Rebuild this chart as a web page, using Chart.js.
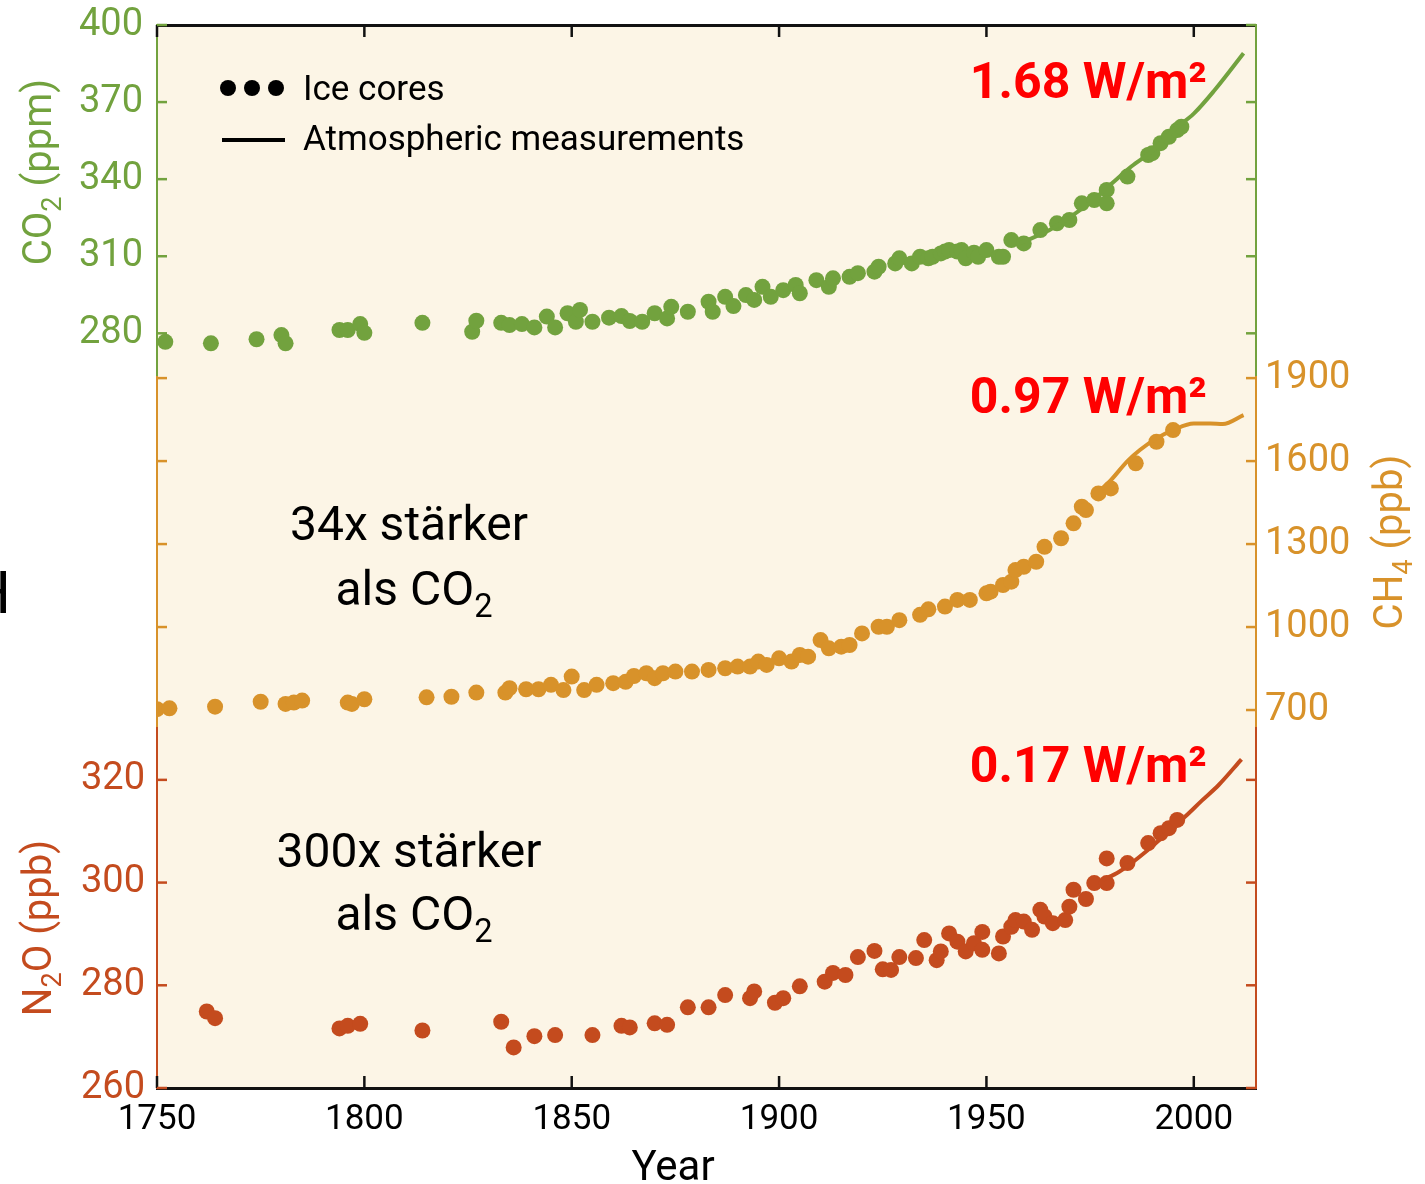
<!DOCTYPE html>
<html>
<head>
<meta charset="utf-8">
<script src="https://cdn.jsdelivr.net/npm/chart.js@4.4.1/dist/chart.umd.min.js"></script>
<style>
  html, body { margin: 0; padding: 0; background: #fff; overflow: hidden; }
  #wrap { width: 1425px; height: 1184px; position: relative; }
</style>
</head>
<body>
<div id="wrap"><canvas id="ghgChart"></canvas></div>
<script>
// tick values
const xTicks = [1750, 1800, 1850, 1900, 1950, 2000];
const co2Ticks = [280, 310, 340, 370, 400];
const ch4Ticks = [700, 1000, 1300, 1600, 1900];
const n2oTicks = [260, 280, 300, 320];

// CO2 (ppm)
const co2IceYears = [1752, 1763, 1774, 1780, 1781, 1794, 1796, 1799, 1800, 1814, 1826, 1827, 1833, 1835, 1838, 1841,
  1844, 1846, 1849, 1851, 1852, 1855, 1859, 1862, 1864, 1867, 1870, 1873, 1874, 1878, 1883, 1884, 1887, 1889, 1892,
  1894, 1896, 1898, 1901, 1904, 1905, 1909, 1912, 1913, 1917, 1919, 1923, 1924, 1928, 1929, 1932, 1934, 1936, 1937,
  1939, 1940, 1941, 1943, 1944, 1945, 1947, 1948, 1950, 1953, 1954, 1956, 1959, 1963, 1967, 1970, 1973, 1976, 1979,
  1979, 1984, 1989, 1990, 1992, 1994, 1996, 1997];
const co2IceValues = [276.7, 276.1, 277.7, 279.3, 276.1, 281.3, 281.3, 283.6, 280.2, 284.1, 280.6, 284.9, 284.1, 283.2,
  283.6, 282.3, 286.5, 282.3, 287.8, 284.5, 289.1, 284.5, 286.1, 286.7, 284.8, 284.5, 287.8, 285.8, 290.3, 288.4, 292.3,
  288.4, 294.2, 290.6, 294.9, 293.0, 298.1, 294.2, 296.8, 298.8, 295.6, 300.7, 298.1, 301.4, 302.0, 303.4, 304.0, 305.9,
  307.2, 309.2, 307.2, 309.8, 309.2, 309.8, 311.1, 311.8, 312.4, 311.8, 312.4, 309.2, 311.4, 309.8, 312.4, 309.8, 309.8,
  316.3, 315.0, 320.2, 322.8, 324.1, 330.6, 331.9, 335.8, 330.6, 341.0, 349.4, 350.1, 354.0, 356.5, 359.1, 360.4];
const co2AtmYears = [1958, 1965, 1970, 1975, 1980, 1985, 1990, 1995, 2000, 2005, 2012];
const co2AtmValues = [315, 320, 325, 331, 338, 345, 351, 359, 365.5, 374.6, 389];

// CH4 (ppb)
const ch4IceYears = [1750, 1753, 1764, 1775, 1781, 1783, 1785, 1796, 1797, 1800, 1815, 1821, 1827, 1834, 1835, 1839,
  1842, 1845, 1848, 1850, 1853, 1856, 1860, 1863, 1865, 1868, 1870, 1872, 1875, 1879, 1883, 1887, 1890, 1893, 1895,
  1897, 1900, 1903, 1905, 1907, 1910, 1912, 1915, 1917, 1920, 1924, 1926, 1929, 1934, 1936, 1940, 1943, 1946, 1950,
  1951, 1954, 1956, 1957, 1959, 1962, 1964, 1968, 1971, 1973, 1974, 1977, 1980, 1986, 1991, 1995];
const ch4IceValues = [703, 706, 712, 730, 722, 727, 734, 727, 722, 739, 746, 748, 763, 763, 779, 775, 775, 791, 772,
  821, 772, 791, 797, 802, 823, 833, 815, 833, 839, 839, 845, 851, 857, 857, 875, 863, 887, 875, 899, 893, 953, 923,
  929, 935, 977, 1001, 1001, 1025, 1044, 1064, 1074, 1098, 1098, 1122, 1128, 1152, 1164, 1206, 1218, 1236, 1290,
  1321, 1375, 1435, 1423, 1483, 1501, 1592, 1670, 1712];
const ch4AtmYears = [1976, 1980, 1984, 1987, 1991, 1995, 2000, 2004, 2007, 2012];
const ch4AtmValues = [1475, 1531, 1600, 1640, 1682, 1712, 1736, 1736, 1734, 1766];

// N2O (ppb)
const n2oIceYears = [1762, 1764, 1794, 1796, 1799, 1814, 1833, 1836, 1841, 1846, 1855, 1862, 1864, 1870, 1873, 1878,
  1883, 1887, 1893, 1894, 1899, 1901, 1905, 1911, 1913, 1916, 1919, 1923, 1925, 1927, 1929, 1933, 1935, 1938, 1939,
  1941, 1943, 1945, 1947, 1949, 1949, 1953, 1954, 1956, 1957, 1959, 1961, 1963, 1964, 1966, 1969, 1970, 1971, 1974,
  1976, 1979, 1979, 1984, 1989, 1992, 1994, 1996];
const n2oIceValues = [274.9, 273.6, 271.6, 272.1, 272.5, 271.2, 272.9, 267.9, 270.1, 270.3, 270.3, 272.1, 271.8, 272.6,
  272.3, 275.7, 275.7, 278.1, 277.5, 278.8, 276.6, 277.5, 279.8, 280.7, 282.4, 282.0, 285.5, 286.7, 283.1, 283.0, 285.5,
  285.3, 288.8, 284.9, 286.6, 290.1, 288.5, 286.6, 288.2, 290.4, 286.9, 286.2, 289.5, 291.4, 292.7, 292.4, 290.8, 294.7,
  293.4, 292.1, 292.7, 295.3, 298.6, 296.8, 299.9, 299.9, 304.7, 303.8, 307.7, 309.6, 310.6, 312.2];
const n2oAtmYears = [1978, 1982, 1989, 1994, 1998, 2002, 2006, 2011.5];
const n2oAtmValues = [300.5, 302.1, 306.4, 310.0, 312.9, 316.0, 319.0, 324.0];

const GREEN = '#72a23e';
const ORANGE = '#d8922a';
const RED = '#c44b1e';
const CREAM = '#fcf5e6';
const FONT = 'Roboto';
const LEFT_W = 157, RIGHT_W = 169;

const pts = (xs, ys) => xs.map((x, i) => ({ x: x, y: ys[i] }));

function yScale(o) {
  return {
    type: 'linear',
    position: o.pos,
    stack: o.pos,
    stackWeight: o.h,
    weight: o.order,
    min: o.min,
    max: o.max,
    afterBuildTicks: s => { s.ticks = o.ticks.map(v => ({ value: v })); },
    afterFit: s => {
      s.width = o.pos === 'left' ? LEFT_W : RIGHT_W;
      s.paddingTop = 0;
      s.paddingBottom = 0;
    },
    grid: { display: false, drawTicks: false },
    border: { display: true, color: o.color, width: 2 },
    ticks: {
      display: !!o.labels, color: o.color, padding: o.pad || 12, autoSkip: false,
      font: { family: FONT, size: 38 }, callback: v => String(v)
    }
  };
}

function iceSet(label, xs, ys, color, axis) {
  return {
    label: label, data: pts(xs, ys), yAxisID: axis, showLine: false,
    pointRadius: 8, pointBorderWidth: 0, pointBackgroundColor: color, pointHoverRadius: 8
  };
}
function atmSet(label, xs, ys, color, axis) {
  return {
    label: label, data: pts(xs, ys), yAxisID: axis, showLine: true, borderColor: color,
    borderWidth: 4, pointRadius: 0, cubicInterpolationMode: 'monotone'
  };
}

function drawRuns(ctx, runs, x, y, size, align, weight) {
  // runs: [text, isSub]
  const subSize = size * 0.68;
  let total = 0;
  runs.forEach(r => {
    ctx.font = (weight || '') + ' ' + (r[1] ? subSize : size) + 'px ' + FONT;
    total += ctx.measureText(r[0]).width;
  });
  let cx = align === 'center' ? x - total / 2 : (align === 'right' ? x - total : x);
  ctx.textAlign = 'left';
  ctx.textBaseline = 'alphabetic';
  runs.forEach(r => {
    ctx.font = (weight || '') + ' ' + (r[1] ? subSize : size) + 'px ' + FONT;
    ctx.fillText(r[0], cx, r[1] ? y + size * 0.24 : y);
    cx += ctx.measureText(r[0]).width;
  });
}

function rotatedTitle(ctx, runs, x, yCenter, size, color) {
  ctx.save();
  ctx.translate(x, yCenter);
  ctx.rotate(-Math.PI / 2);
  ctx.fillStyle = color;
  drawRuns(ctx, runs, 0, 0, size, 'center');
  ctx.restore();
}

const backdrop = {
  id: 'backdrop',
  beforeDraw(chart) {
    const a = chart.chartArea, ctx = chart.ctx;
    ctx.save();
    ctx.fillStyle = CREAM;
    ctx.fillRect(a.left, a.top, a.right - a.left, a.bottom - a.top);
    ctx.restore();
  }
};

// tick marks pointing into the plot
const innerTicks = {
  id: 'innerTicks',
  beforeDatasetsDraw(chart) {
    const ctx = chart.ctx, a = chart.chartArea;
    ctx.save();
    ctx.lineWidth = 2.5;
    Object.values(chart.scales).forEach(s => {
      ctx.strokeStyle = s.options.border.color;
      s.ticks.forEach(t => {
        const p = s.getPixelForValue(t.value);
        ctx.beginPath();
        if (s.isHorizontal()) {
          const y0 = s.position === 'top' ? a.top : a.bottom;
          const d = s.position === 'top' ? 12 : -12;
          ctx.moveTo(p, y0); ctx.lineTo(p, y0 + d);
        } else {
          const x0 = s.position === 'left' ? a.left : a.right;
          const d = s.position === 'left' ? 10 : -10;
          ctx.moveTo(x0, p); ctx.lineTo(x0 + d, p);
        }
        ctx.stroke();
      });
    });
    ctx.restore();
  }
};

const texts = {
  id: 'texts',
  afterDraw(chart) {
    const ctx = chart.ctx;
    ctx.save();
    // axis titles
    rotatedTitle(ctx, [['CO', 0], ['2', 1], [' (ppm)', 0]], 51, 172, 40, GREEN);
    rotatedTitle(ctx, [['CH', 0], ['4', 1], [' (ppb)', 0]], 1402, 542, 40, ORANGE);
    rotatedTitle(ctx, [['N', 0], ['2', 1], ['O (ppb)', 0]], 51, 928, 40, RED);
    ctx.fillStyle = '#000';
    drawRuns(ctx, [['Year', 0]], 673, 1180, 42, 'center');

    // legend
    [228, 252, 276].forEach(x => {
      ctx.beginPath(); ctx.arc(x, 88, 8, 0, Math.PI * 2); ctx.fill();
    });
    ctx.strokeStyle = '#000'; ctx.lineWidth = 4;
    ctx.beginPath(); ctx.moveTo(222, 140); ctx.lineTo(285, 140); ctx.stroke();
    drawRuns(ctx, [['Ice cores', 0]], 303, 100, 35, 'left');
    drawRuns(ctx, [['Atmospheric measurements', 0]], 303, 150, 35, 'left');

    // forcing labels
    ctx.fillStyle = '#ff0000';
    drawRuns(ctx, [['1.68 W/m²', 0]], 1207, 98, 50, 'right', 'bold');
    drawRuns(ctx, [['0.97 W/m²', 0]], 1207, 413, 50, 'right', 'bold');
    drawRuns(ctx, [['0.17 W/m²', 0]], 1207, 782, 50, 'right', 'bold');

    // potency notes
    ctx.fillStyle = '#000';
    drawRuns(ctx, [['34x stärker', 0]], 409, 540, 48, 'center');
    drawRuns(ctx, [['als CO', 0], ['2', 1]], 414, 605, 48, 'center');
    drawRuns(ctx, [['300x stärker', 0]], 409, 867, 48, 'center');
    drawRuns(ctx, [['als CO', 0], ['2', 1]], 414, 930, 48, 'center');
    drawRuns(ctx, [['H', 0]], 11, 613, 60, 'right');
    ctx.restore();
  }
};

Chart.defaults.font.family = FONT;

new Chart(document.getElementById('ghgChart'), {
  type: 'scatter',
  data: {
    datasets: [
      atmSet('CO2 atmospheric', co2AtmYears, co2AtmValues, GREEN, 'yCO2'),
      atmSet('CH4 atmospheric', ch4AtmYears, ch4AtmValues, ORANGE, 'yCH4'),
      atmSet('N2O atmospheric', n2oAtmYears, n2oAtmValues, RED, 'yN2O'),
      iceSet('CO2 ice cores', co2IceYears, co2IceValues, GREEN, 'yCO2'),
      iceSet('CH4 ice cores', ch4IceYears, ch4IceValues, ORANGE, 'yCH4'),
      iceSet('N2O ice cores', n2oIceYears, n2oIceValues, RED, 'yN2O')
    ]
  },
  options: {
    responsive: true,
    maintainAspectRatio: false,
    animation: false,
    events: [],
    layout: { padding: 0 },
    plugins: { legend: { display: false }, tooltip: { enabled: false } },
    scales: {
      x: {
        type: 'linear', position: 'bottom', min: 1750, max: 2015,
        afterBuildTicks: s => { s.ticks = xTicks.map(v => ({ value: v })); },
        afterFit: s => { s.height = 96; s.paddingLeft = 0; s.paddingRight = 0; },
        grid: { display: false, drawTicks: false },
        border: { display: true, color: '#111', width: 3 },
        ticks: {
          color: '#000', padding: 11, autoSkip: false, maxRotation: 0,
          font: { family: FONT, size: 35 }, callback: v => String(v)
        }
      },
      xTop: {
        type: 'linear', position: 'top', min: 1750, max: 2015,
        afterBuildTicks: s => { s.ticks = xTicks.map(v => ({ value: v })); },
        afterFit: s => { s.height = 25; s.paddingLeft = 0; s.paddingRight = 0; },
        grid: { display: false, drawTicks: false },
        border: { display: true, color: '#111', width: 3 },
        ticks: { display: false }
      },
      yCO2: yScale({ pos: 'left', h: 352, order: 3, min: 263, max: 400, ticks: co2Ticks, color: GREEN, labels: true, pad: 14 }),
      yCH4L: yScale({ pos: 'left', h: 351, order: 2, min: 635, max: 1904, ticks: ch4Ticks, color: ORANGE }),
      yN2O: yScale({ pos: 'left', h: 360, order: 1, min: 260, max: 330.1, ticks: n2oTicks, color: RED, labels: true, pad: 12 }),
      yCO2R: yScale({ pos: 'right', h: 352, order: 1, min: 263, max: 400, ticks: co2Ticks, color: GREEN }),
      yCH4: yScale({ pos: 'right', h: 351, order: 2, min: 635, max: 1904, ticks: ch4Ticks, color: ORANGE, labels: true, pad: 9 }),
      yN2OR: yScale({ pos: 'right', h: 360, order: 3, min: 260, max: 330.1, ticks: n2oTicks, color: RED })
    }
  },
  plugins: [backdrop, innerTicks, texts]
});
</script>
</body>
</html>
